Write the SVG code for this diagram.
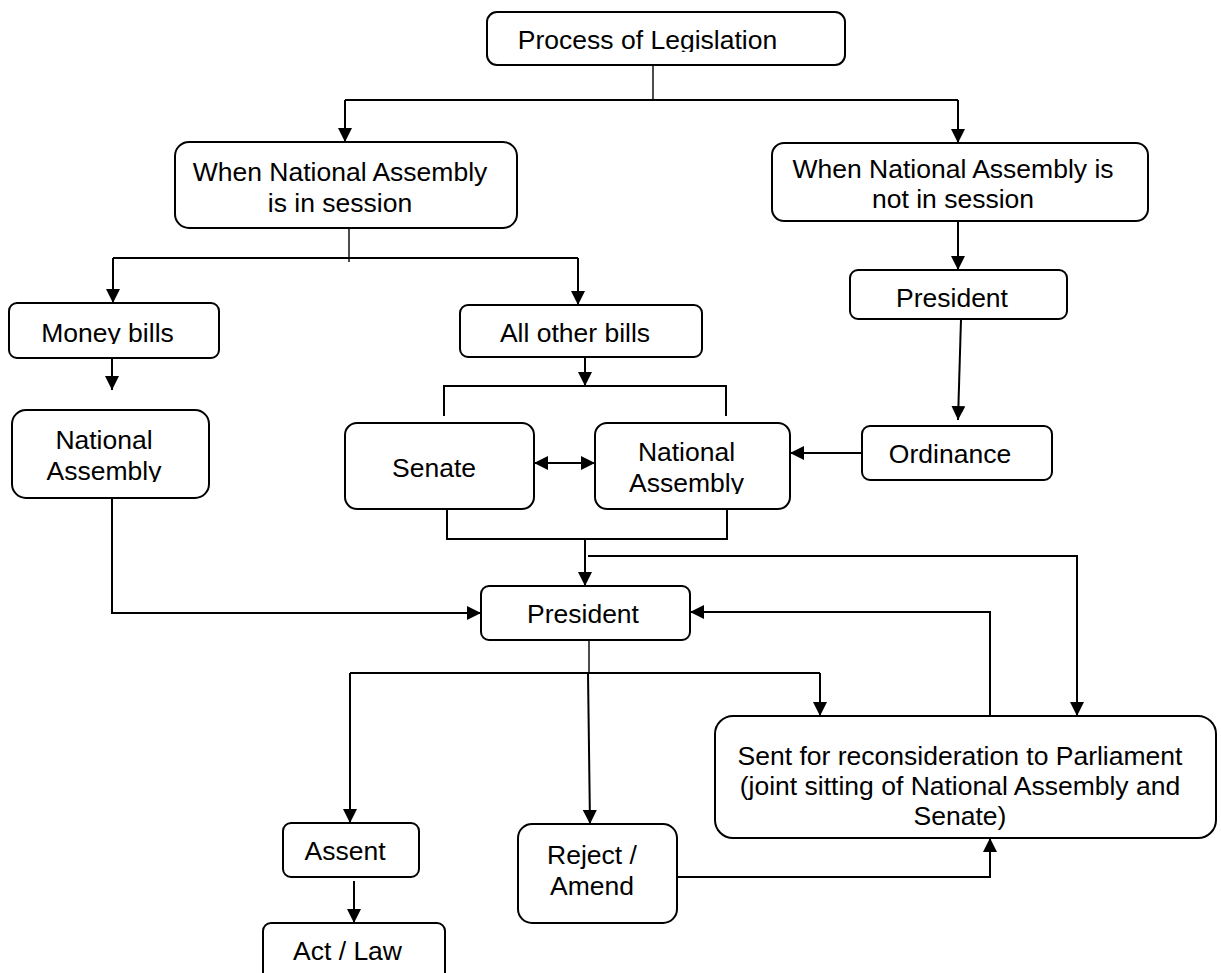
<svg xmlns="http://www.w3.org/2000/svg" width="1221" height="973" viewBox="0 0 1221 973">
<style>
.box{fill:#fff;stroke:#000;stroke-width:2}
.t{font-family:"Liberation Sans",Arial,sans-serif;font-size:26.5px;fill:#000;text-anchor:middle}
.c{fill:none;stroke:#000;stroke-width:2}
.thin{fill:none;stroke:#000;stroke-width:1.4}
.a{marker-end:url(#ah)}
</style>
<defs>
<marker id="ah" markerUnits="userSpaceOnUse" markerWidth="14" markerHeight="14" refX="14" refY="7" orient="auto-start-reverse" viewBox="0 0 14 14">
<path d="M0,0 L14,7 L0,14 z" fill="#000"/>
</marker>
<clipPath id="cp1" clipPathUnits="userSpaceOnUse"><rect x="0" y="0" width="1221" height="52"/></clipPath>
<clipPath id="cp3" clipPathUnits="userSpaceOnUse"><rect x="0" y="0" width="1221" height="210"/></clipPath>
<clipPath id="cp4" clipPathUnits="userSpaceOnUse"><rect x="0" y="0" width="1221" height="309"/></clipPath>
<clipPath id="cp5" clipPathUnits="userSpaceOnUse"><rect x="0" y="0" width="1221" height="344"/></clipPath>
<clipPath id="cp6" clipPathUnits="userSpaceOnUse"><rect x="0" y="0" width="1221" height="482"/></clipPath>
<clipPath id="cp9" clipPathUnits="userSpaceOnUse"><rect x="0" y="0" width="1221" height="494"/></clipPath>
</defs>

<g id="connectors">
<path class="thin" d="M653,65 V100"/>
<path class="c" d="M345,100 H958"/>
<path class="c a" d="M345,100 V142"/>
<path class="c a" d="M958,100 V143"/>
<path class="thin" d="M349,228 V262"/>
<path class="c" d="M113,258 H578"/>
<path class="c a" d="M113,258 V303"/>
<path class="c a" d="M578,258 V305"/>
<path class="c a" d="M958,221 V270"/>
<path class="c a" d="M961,319 L958,420"/>
<path class="c a" d="M862,453 H790"/>
<path class="c a" d="M112,358 V390"/>
<path class="c a" d="M112,498 V613 H481"/>
<path class="c a" d="M585,357 V386"/>
<path class="c" d="M444,416 V386 H726 V416"/>
<path class="c a" style="marker-start:url(#ah)" d="M534,463 H595"/>
<path class="c" d="M447,509 V539 H727 V509"/>
<path class="c a" d="M585,539 V586"/>
<path class="c a" d="M588,556 H1077 V716"/>
<path class="c a" d="M990,716 V612 H690"/>
<path class="thin" d="M589,640 V673"/>
<path class="c" d="M350,673 H820"/>
<path class="c a" d="M350,673 V823"/>
<path class="c a" d="M588,673 L590,824"/>
<path class="c a" d="M820,673 V716"/>
<path class="c a" d="M354,881 V923"/>
<path class="c a" d="M677,877 H990 V838"/>
</g>

<g id="process">
<rect class="box" x="487" y="12" width="358" height="53" rx="10"/>
<text class="t" x="647.5" y="49" clip-path="url(#cp1)">Process of Legislation</text>
</g>
<g id="in-session">
<rect class="box" x="175" y="142" width="342" height="86" rx="14"/>
<text class="t" x="340" y="181">When National Assembly</text>
<text class="t" x="340" y="212">is in session</text>
</g>
<g id="not-in-session">
<rect class="box" x="772" y="143" width="376" height="78" rx="12"/>
<text class="t" x="953" y="178">When National Assembly is</text>
<text class="t" x="953" y="208" clip-path="url(#cp3)">not in session</text>
</g>
<g id="president-ordinance">
<rect class="box" x="850" y="270" width="217" height="49" rx="8"/>
<text class="t" x="952" y="307" clip-path="url(#cp4)">President</text>
</g>
<g id="money-bills">
<rect class="box" x="9" y="303" width="210" height="55" rx="8"/>
<text class="t" x="107.5" y="342" clip-path="url(#cp5)">Money bills</text>
</g>
<g id="national-assembly-money">
<rect class="box" x="12" y="410" width="197" height="88" rx="14"/>
<text class="t" x="104" y="449">National</text>
<text class="t" x="104" y="480" clip-path="url(#cp6)">Assembly</text>
</g>
<g id="all-other-bills">
<rect class="box" x="460" y="305" width="242" height="52" rx="8"/>
<text class="t" x="575" y="342">All other bills</text>
</g>
<g id="senate">
<rect class="box" x="345" y="423" width="189" height="86" rx="12"/>
<text class="t" x="434" y="477">Senate</text>
</g>
<g id="national-assembly">
<rect class="box" x="595" y="423" width="195" height="86" rx="12"/>
<text class="t" x="686.5" y="461">National</text>
<text class="t" x="686.5" y="492" clip-path="url(#cp9)">Assembly</text>
</g>
<g id="ordinance">
<rect class="box" x="862" y="426" width="190" height="54" rx="8"/>
<text class="t" x="950" y="463">Ordinance</text>
</g>
<g id="president">
<rect class="box" x="481" y="586" width="209" height="54" rx="8"/>
<text class="t" x="583" y="623">President</text>
</g>
<g id="reconsideration">
<rect class="box" x="715" y="716" width="501" height="122" rx="18"/>
<text class="t" x="960" y="765">Sent for reconsideration to Parliament</text>
<text class="t" x="960" y="795">(joint sitting of National Assembly and</text>
<text class="t" x="960" y="825">Senate)</text>
</g>
<g id="assent">
<rect class="box" x="283" y="823" width="136" height="54" rx="8"/>
<text class="t" x="345" y="860">Assent</text>
</g>
<g id="reject-amend">
<rect class="box" x="518" y="824" width="159" height="99" rx="14"/>
<text class="t" x="592" y="864">Reject /</text>
<text class="t" x="592" y="895">Amend</text>
</g>
<g id="act-law">
<rect class="box" x="263" y="923" width="182" height="70" rx="8"/>
<text class="t" x="347.5" y="960">Act / Law</text>
</g>
</svg>
